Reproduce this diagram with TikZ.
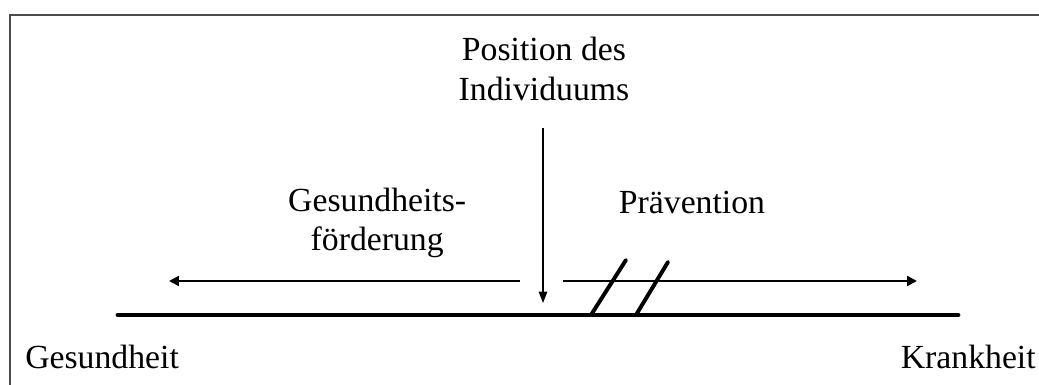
\documentclass[tikz,border=0pt]{standalone}
\usepackage{fontspec}
\setmainfont{Liberation Serif}
\usepackage{tikz}
\usetikzlibrary{arrows.meta,positioning}

\begin{document}
\begin{tikzpicture}[
    txt/.style={font=\fontsize{24}{28}\selectfont, align=center, inner sep=0pt},
    axisline/.style={line width=3.4pt, line cap=round},
    arrow/.style={-{Triangle[length=7pt, width=7pt]}, line width=1.5pt},
    pointer/.style={-{Triangle[length=8pt, width=6pt]}, line width=1pt},
    breakmark/.style={line width=2.8pt, line cap=round}
]
    \useasboundingbox (0,0) rectangle (25.975,9.625);

    % Frame (cut off right and bottom)
    \draw[black!70, line width=1.1pt] (0.25,0) -- (0.25,9.25) -- (25.975,9.25);

    % Labels
    \node[txt] (pos) at (13.6,7.9) {Position des\\Individuums};
    \node[txt] (foerd) at (9.43,4.05) {Gesundheits-\\förderung};
    \node[txt] (praev) at (17.3,4.55) {Prävention};
    \node[txt, anchor=west] (ges) at (0.625,0.7) {Gesundheit};
    \node[txt, anchor=east] (krank) at (25.9,0.7) {Krankheit};

    % Axis points
    \coordinate (axL) at (2.95,1.75);
    \coordinate (axR) at (23.95,1.75);
    \coordinate (top) at (13.575,6.425);
    \coordinate (tip) at (13.575,2.05);
    \coordinate (fromL) at (13.0,2.6);
    \coordinate (toL) at (4.225,2.6);
    \coordinate (fromR) at (14.075,2.6);
    \coordinate (toR) at (22.925,2.6);

    % Axis
    \draw[axisline] (axL) -- (axR);

    % Arrows
    \draw[pointer] (top) -- (tip);
    \draw[arrow] (fromL) -- (toL);
    \draw[arrow] (fromR) -- (toR);

    % Break marks
    \draw[breakmark] (14.775,1.75) -- (15.65,3.125);
    \draw[breakmark] (15.9,1.75) -- (16.7,3.075);
\end{tikzpicture}
\end{document}
